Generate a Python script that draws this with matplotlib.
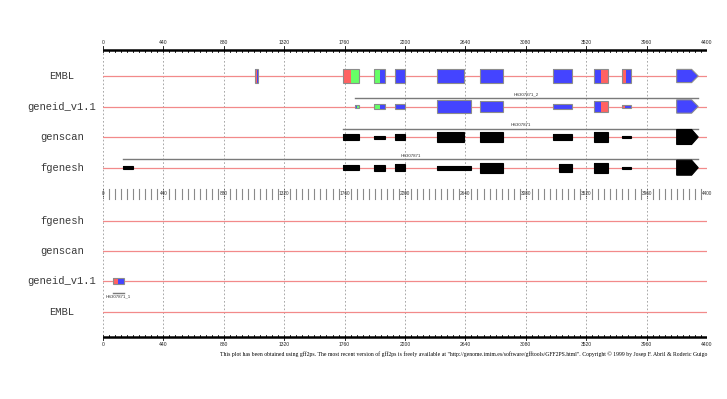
import matplotlib.pyplot as plt
from matplotlib.patches import Rectangle, Polygon

# sequence axis
seq_len = 4400
major_ticks = list(range(0, 4401, 440))
minor_step = 44

# track names (top panel = forward strand, bottom panel = reverse strand)
top_tracks = ['EMBL', 'geneid_v1.1', 'genscan', 'fgenesh']
bottom_tracks = ['fgenesh', 'genscan', 'geneid_v1.1', 'EMBL']

# exons: list of segments (start, end, frame colour code) + score (0-1)
embl_exons = [
    [(1107, 1113, 'b'), (1113, 1120, 'r'), (1120, 1127, 'b')],
    [(1750, 1806, 'r'), (1806, 1862, 'g')],
    [(1976, 2017, 'g'), (2017, 2056, 'b')],
    [(2129, 2198, 'b')],
    [(2433, 2632, 'b')],
    [(2749, 2912, 'b')],
    [(3276, 3416, 'b')],
    [(3574, 3625, 'b'), (3625, 3676, 'r')],
    [(3778, 3788, 'b'), (3788, 3810, 'r'), (3810, 3846, 'b')],
    [(4179, 4336, 'b')],
]
embl_scores = [0.88] * 10

geneid_exons = [
    [(1836, 1849, 'b'), (1849, 1862, 'g')],
    [(1976, 2017, 'g'), (2017, 2056, 'b')],
    [(2129, 2198, 'b')],
    [(2433, 2683, 'b')],
    [(2749, 2912, 'b')],
    [(3276, 3416, 'b')],
    [(3574, 3625, 'b'), (3625, 3676, 'r')],
    [(3778, 3800, 'r'), (3800, 3846, 'b')],
    [(4179, 4336, 'b')],
]
geneid_scores = [0.15, 0.32, 0.32, 0.87, 0.69, 0.38, 0.71, 0.15, 0.89]
geneid_gene = (1836, 4336, 'HS307871_2')

genscan_exons = [(1750, 1862), (1976, 2056), (2129, 2198), (2433, 2632), (2749, 2912),
                 (3276, 3416), (3574, 3676), (3778, 3846), (4179, 4336)]
genscan_scores = [0.42, 0.2, 0.42, 0.73, 0.67, 0.42, 0.67, 0.13, 1.0]
genscan_gene = (1750, 4336, 'HS307871')

fgenesh_exons = [(148, 216), (1750, 1862), (1976, 2056), (2129, 2198), (2433, 2683),
                 (2749, 2912), (3324, 3416), (3574, 3676), (3778, 3846), (4179, 4336)]
fgenesh_scores = [0.2, 0.36, 0.4, 0.44, 0.25, 0.69, 0.53, 0.69, 0.13, 1.0]
fgenesh_gene = (148, 4336, 'HS307871')

# reverse strand geneid prediction
geneid_rev_exons = [[(70, 108, 'r'), (108, 153, 'b')]]
geneid_rev_scores = [0.45]
geneid_rev_gene = (72, 150, 'HS307871_1')

footer = ('This plot has been obtained using gff2ps. The most recent version of gff2ps is freely '
          'available at "http://genome.imim.es/software/gfftools/GFF2PS.html". '
          'Copyright \u00a9 1999 by Josep F. Abril & Roderic Guigo')

colours = {'r': '#ff6262', 'g': '#66ff66', 'b': '#4444ff', 'k': 'black'}

W, H = 727, 399
fig = plt.figure(figsize=(W / 100, H / 100), dpi=100)
ax = fig.add_axes([103 / W, 0, 604 / W, 1])
ax.set_xlim(0, seq_len)
ax.set_ylim(H, 0)
ax.axis('off')

top_y = [76, 106.5, 137, 167.7]
bottom_y = [220.7, 250.7, 281, 311.7]
max_h = 15

# grid lines
for t in major_ticks:
    ax.plot([t, t], [53, 335], color='#9a9a9a', lw=0.6, ls=(0, (2, 2.5)), zorder=0)

# track lines and labels
for name, y in zip(top_tracks, top_y):
    ax.plot([0, seq_len], [y, y], color='#f28a8a', lw=0.9, zorder=1)
    fig.text(62 / W, 1 - y / H, name, ha='center', va='center', family='Liberation Mono',
             fontsize=7.6, color='#3a3a3a')
for name, y in zip(bottom_tracks, bottom_y):
    ax.plot([0, seq_len], [y, y], color='#f28a8a', lw=0.9, zorder=1)
    fig.text(62 / W, 1 - y / H, name, ha='center', va='center', family='Liberation Mono',
             fontsize=7.6, color='#3a3a3a')


def draw_exon(segs, y, score, last=False, colour=None):
    h = score * max_h
    s, e = segs[0][0], segs[-1][1]
    tip = 48 if last else 0
    for a, b, c in segs:
        col = colours[c] if colour is None else colour
        if last and b == e:
            pts = [(a, y - h / 2), (e - tip, y - h / 2), (e, y), (e - tip, y + h / 2), (a, y + h / 2)]
            ax.add_patch(Polygon(pts, closed=True, facecolor=col, edgecolor='none', zorder=3))
        else:
            ax.add_patch(Rectangle((a, y - h / 2), b - a, h, facecolor=col, edgecolor='none', zorder=3))
    edge = '#8c8c8c' if colour is None else 'black'
    if last:
        pts = [(s, y - h / 2), (e - tip, y - h / 2), (e, y), (e - tip, y + h / 2), (s, y + h / 2)]
        ax.add_patch(Polygon(pts, closed=True, fill=False, edgecolor=edge, lw=0.8, zorder=4))
    else:
        ax.add_patch(Rectangle((s, y - h / 2), e - s, h, fill=False, edgecolor=edge, lw=0.8, zorder=4))


def draw_gene(gene, y):
    s, e, name = gene
    ax.plot([s, e], [y, y], color='#7a7a7a', lw=1.0, zorder=2)
    ax.text((s + e) / 2, y - 1.2, name, ha='center', va='bottom', fontsize=3.2,
            family='Liberation Sans', color='#333333')


# EMBL
for i, (segs, sc) in enumerate(zip(embl_exons, embl_scores)):
    draw_exon(segs, top_y[0], sc, last=(i == len(embl_exons) - 1))
# geneid
draw_gene(geneid_gene, top_y[1] - 8.5)
for i, (segs, sc) in enumerate(zip(geneid_exons, geneid_scores)):
    draw_exon(segs, top_y[1], sc, last=(i == len(geneid_exons) - 1))
# genscan
draw_gene(genscan_gene, top_y[2] - 8.5)
for i, ((a, b), sc) in enumerate(zip(genscan_exons, genscan_scores)):
    draw_exon([(a, b, 'k')], top_y[2], sc, last=(i == len(genscan_exons) - 1), colour='black')
# fgenesh
draw_gene(fgenesh_gene, top_y[3] - 8.5)
for i, ((a, b), sc) in enumerate(zip(fgenesh_exons, fgenesh_scores)):
    draw_exon([(a, b, 'k')], top_y[3], sc, last=(i == len(fgenesh_exons) - 1), colour='black')

# reverse strand geneid
for segs, sc in zip(geneid_rev_exons, geneid_rev_scores):
    draw_exon(segs, bottom_y[2], sc)
s, e, name = geneid_rev_gene
ax.plot([s, e], [bottom_y[2] + 11.5, bottom_y[2] + 11.5], color='#7a7a7a', lw=1.0)
ax.text((s + e) / 2, bottom_y[2] + 13.5, name, ha='center', va='top', fontsize=3.2,
        family='Liberation Sans', color='#333333')

# top ruler
ax.plot([0, seq_len], [50, 50], color='black', lw=1.8, solid_capstyle='butt', zorder=5)
for t in range(0, seq_len + 1, minor_step):
    ax.plot([t, t], [50, 52.2], color='black', lw=0.6, zorder=5)
for t in major_ticks:
    ax.plot([t, t], [46, 50], color='black', lw=0.6, zorder=5)
    ax.text(t, 45.5, str(t), ha='center', va='bottom', fontsize=3.6, family='Liberation Sans',
            color='#222222')

# middle ruler
for t in range(0, seq_len + 1, minor_step):
    if t % 440:
        ax.plot([t, t], [189, 198.5], color='#8a8a8a', lw=0.8, zorder=5)
for t in major_ticks:
    ax.plot([t, t], [189, 198.5], color='black', lw=0.6, ls=(0, (1, 1.5)), zorder=5)
    ax.text(t, 193.8, str(t), ha='center', va='center', fontsize=3.4, family='Liberation Sans',
            color='#333333', zorder=6)

# bottom ruler
ax.plot([0, seq_len], [337, 337], color='black', lw=1.8, solid_capstyle='butt', zorder=5)
for t in range(0, seq_len + 1, minor_step):
    ax.plot([t, t], [334.8, 337], color='black', lw=0.6, zorder=5)
for t in major_ticks:
    ax.plot([t, t], [337, 340], color='black', lw=0.6, zorder=5)
    ax.text(t, 342.5, str(t), ha='center', va='top', fontsize=3.6, family='Liberation Sans',
            color='#222222')

fig.text(707 / W, 1 - 353.7 / H, footer, ha='right', va='center', fontsize=4.15,
         family='Liberation Serif', color='black')

fig.savefig('out.png', dpi=100, facecolor='white')
